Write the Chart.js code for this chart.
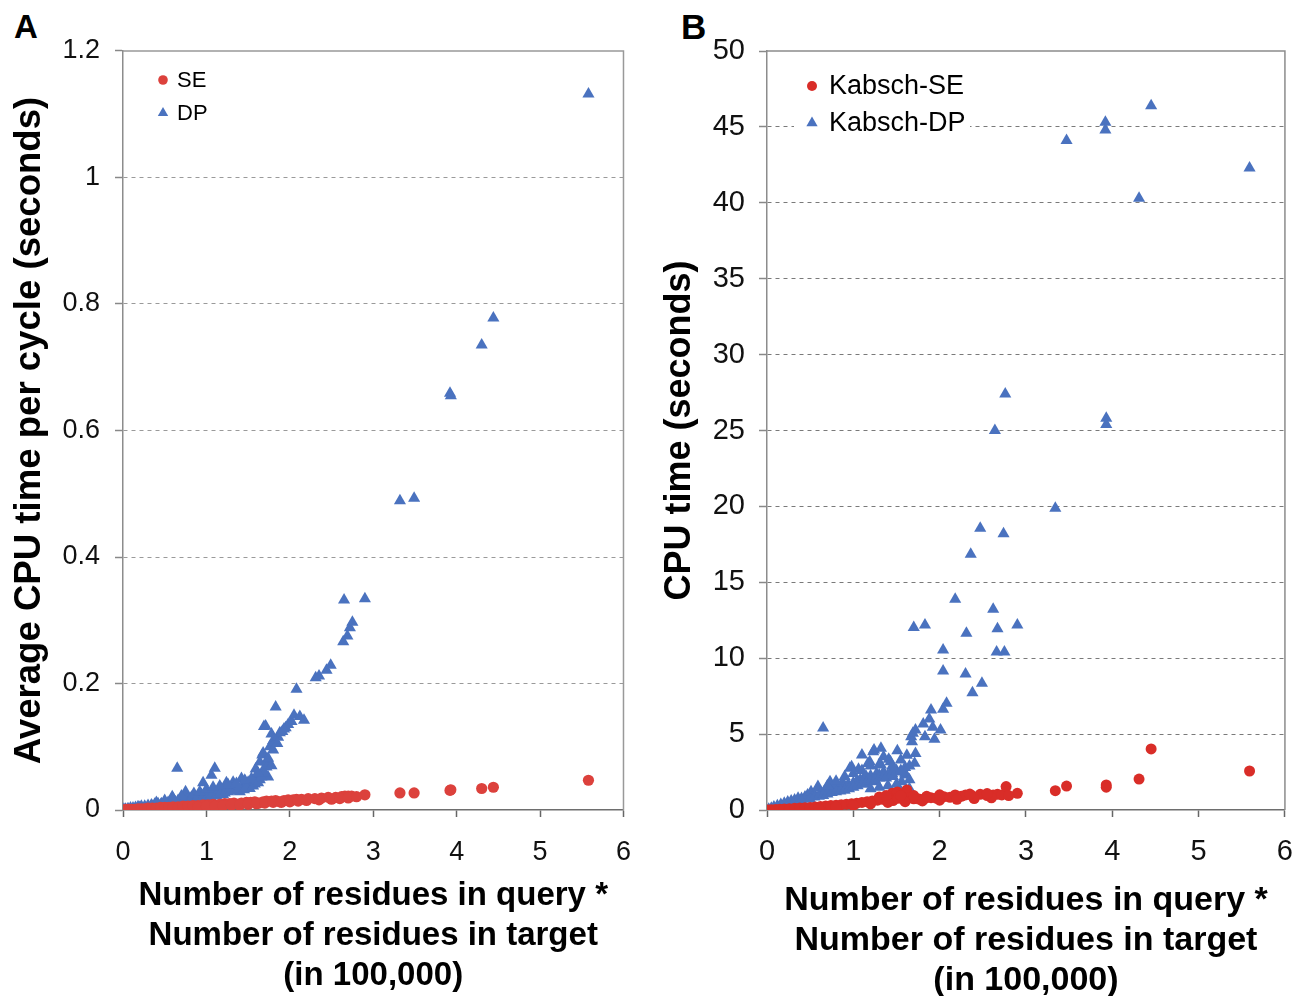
<!DOCTYPE html>
<html>
<head>
<meta charset="utf-8">
<script src="https://cdn.jsdelivr.net/npm/chart.js@4.4.0/dist/chart.umd.min.js"></script>
<style>
html,body{margin:0;padding:0;background:#fff;overflow:hidden;width:1311px;height:996px;position:relative;}
canvas{position:absolute;top:0;}
#cA{left:0;}
#cB{left:650px;}
.panel{position:absolute;font-family:'Liberation Sans',Arial,sans-serif;font-weight:bold;font-size:33px;color:#000;line-height:1;}
</style>
</head>
<body>
<div class="panel" style="left:14px;top:10px">A</div>
<div class="panel" style="left:681px;top:9px;font-size:35px">B</div>
<canvas id="cA" width="650" height="996"></canvas>
<canvas id="cB" width="661" height="1001"></canvas>
<script>
// ---------- tick labels & series names ----------
const xTickLabels = ['0','1','2','3','4','5','6'];
const yTickLabelsA = ['0','0.2','0.4','0.6','0.8','1','1.2'];
const yTickLabelsB = ['0','5','10','15','20','25','30','35','40','45','50'];
const namesA = ['SE','DP'];
const namesB = ['Kabsch-SE','Kabsch-DP'];
const xTitle = ['Number of residues in query *','Number of residues in target','(in 100,000)'];
const yTitleA = 'Average CPU time per cycle (seconds)';
const yTitleB = 'CPU time (seconds)';

// ---------- Panel A: SE ----------
const seA_x = [0.01,0.04,0.07,0.10,0.14,0.18,0.22,0.26,0.30,0.35,0.40,0.45,0.50,0.55,0.60,0.66,0.72,0.78,0.84,0.90,0.96,1.02,1.08,1.12,1.16,1.22,1.28,1.33,1.38,1.42,1.48,1.53,1.58,1.63,1.68,1.72,1.78,1.83,1.88,1.93,1.98,2.04,2.08,2.14,2.22,2.30,2.38,2.46,2.55,2.62,2.66,2.70,2.74,2.90,3.32,3.49,3.92,3.93,4.30,4.44,5.58,
  0.90,1.00,1.10,1.20,1.30,1.40,1.50,1.60,1.70,1.80,1.90,2.00,2.10,2.20,2.35,2.50,2.60,2.70,2.80];
const seA_y = [0.000,0.001,0.001,0.001,0.001,0.002,0.002,0.002,0.003,0.003,0.003,0.004,0.004,0.004,0.005,0.005,0.006,0.006,0.007,0.007,0.008,0.008,0.009,0.007,0.009,0.010,0.010,0.011,0.009,0.011,0.012,0.012,0.013,0.011,0.013,0.014,0.014,0.015,0.013,0.015,0.016,0.016,0.017,0.017,0.018,0.018,0.019,0.020,0.020,0.021,0.022,0.022,0.022,0.024,0.027,0.027,0.031,0.032,0.034,0.036,0.047,
  0.005,0.006,0.006,0.007,0.008,0.008,0.009,0.010,0.011,0.012,0.012,0.013,0.014,0.015,0.016,0.017,0.018,0.019,0.021];

// ---------- Panel A: DP ----------
const dpA_x = [0.01,0.03,0.06,0.09,0.12,0.15,0.18,0.22,0.26,0.30,0.34,0.38,0.42,0.46,0.50,0.54,0.59,0.58,0.62,0.65,0.66,0.70,0.74,0.75,0.78,0.82,0.86,0.90,0.94,0.96,0.98,1.02,1.06,1.06,1.10,1.10,1.14,1.18,1.20,1.24,1.24,1.28,1.32,1.32,1.36,1.40,1.42,1.44,1.48,1.50,1.52,1.55,1.59,1.60,1.60,1.64,1.64,1.67,1.68,1.68,1.69,1.71,1.72,1.74,1.76,1.80,1.82,1.83,1.86,1.88,1.91,1.95,1.98,2.02,2.05,2.08,2.12,2.17,2.31,2.35,2.44,2.49,2.64,2.69,2.72,2.75,2.65,2.90,3.32,3.49,3.92,3.93,4.30,4.44,5.58,
  0.20,0.35,0.45,0.55,0.65,0.72,0.80,0.88,0.95,1.00,1.05,1.12,1.16,1.22,1.26,1.30,1.34,1.38,1.45,1.48,1.56,1.58,1.62,1.66,1.70,1.72,1.78,1.74,1.80,1.85,1.78,1.93,0.85,0.92,1.00,1.08,1.16,1.26,1.36,1.46,1.54,1.62,0.70,0.60,0.50,0.40];
const dpA_y = [0.001,0.001,0.002,0.003,0.003,0.004,0.005,0.006,0.006,0.007,0.008,0.009,0.010,0.010,0.011,0.012,0.021,0.013,0.014,0.066,0.015,0.016,0.017,0.029,0.018,0.020,0.021,0.022,0.024,0.043,0.025,0.026,0.055,0.028,0.066,0.029,0.031,0.033,0.024,0.043,0.034,0.035,0.044,0.036,0.037,0.029,0.050,0.039,0.041,0.044,0.034,0.043,0.065,0.055,0.045,0.076,0.048,0.087,0.063,0.090,0.132,0.133,0.076,0.052,0.100,0.110,0.108,0.163,0.115,0.122,0.124,0.130,0.135,0.140,0.150,0.191,0.148,0.142,0.209,0.212,0.221,0.229,0.266,0.275,0.288,0.297,0.332,0.334,0.489,0.493,0.659,0.655,0.735,0.778,1.132,
  0.004,0.006,0.008,0.009,0.011,0.013,0.014,0.016,0.018,0.019,0.021,0.022,0.025,0.027,0.029,0.030,0.031,0.033,0.032,0.035,0.038,0.041,0.043,0.052,0.058,0.068,0.070,0.082,0.095,0.105,0.120,0.128,0.026,0.029,0.033,0.036,0.038,0.040,0.042,0.047,0.050,0.058,0.022,0.018,0.015,0.012];

// ---------- Panel B: Kabsch-SE ----------
const seB_x = [0.01,0.05,0.10,0.15,0.20,0.26,0.32,0.38,0.44,0.50,0.56,0.62,0.68,0.74,0.80,0.86,0.92,0.98,1.04,1.10,1.16,1.22,1.28,1.34,1.40,1.45,1.46,1.51,1.52,1.58,1.62,1.65,1.70,1.76,1.83,1.90,1.96,2.05,2.12,2.18,2.25,2.30,2.38,2.47,2.55,2.62,2.67,2.72,2.77,2.90,3.34,3.47,3.93,3.93,4.31,4.45,5.59,
  0.60,0.80,1.00,1.20,1.40,1.60,1.80,2.00,2.20,2.40,2.60,1.30,1.38,1.55,1.70,1.85,2.00,2.35,2.55,2.80];
const seB_y = [0.00,0.02,0.03,0.05,0.07,0.09,0.11,0.13,0.15,0.17,0.20,0.23,0.26,0.29,0.32,0.35,0.38,0.41,0.45,0.50,0.55,0.60,0.65,0.70,0.74,1.10,0.62,1.19,0.78,0.70,1.32,0.80,0.74,0.72,0.77,0.81,0.78,0.88,0.84,0.99,0.90,0.99,0.92,1.03,0.95,0.99,1.03,0.99,1.54,1.10,1.27,1.58,1.65,1.50,2.04,4.02,2.57,
  0.10,0.20,0.30,0.40,0.50,0.55,0.60,0.65,0.70,0.75,0.80,0.85,0.95,0.95,0.95,0.90,1.00,1.05,1.08,0.95];

// ---------- Panel B: Kabsch-DP ----------
const dpB_x = [0.02,0.05,0.08,0.12,0.16,0.20,0.24,0.28,0.32,0.36,0.40,0.44,0.47,0.50,0.51,0.55,0.59,0.59,0.62,0.65,0.66,0.70,0.73,0.74,0.76,0.80,0.84,0.87,0.90,0.94,0.96,0.98,1.00,1.04,1.06,1.08,1.10,1.12,1.15,1.17,1.19,1.20,1.23,1.24,1.26,1.27,1.30,1.32,1.32,1.35,1.38,1.41,1.43,1.43,1.46,1.51,1.50,1.56,1.60,1.60,1.65,1.67,1.68,1.69,1.71,1.72,1.72,1.70,1.81,1.83,1.83,1.88,1.90,1.92,1.94,2.01,2.04,2.08,2.04,2.04,2.18,2.30,2.31,2.36,2.38,2.47,2.49,2.62,2.64,2.66,2.67,2.74,2.75,2.76,2.90,3.34,3.47,3.92,3.92,3.93,3.93,4.31,4.45,5.59,
  0.30,0.40,0.50,0.55,0.60,0.65,0.70,0.75,0.80,0.85,0.90,0.95,1.00,1.05,1.10,1.15,1.20,1.25,1.30,1.35,1.40,1.45,1.50,1.55,1.60,1.65,0.70,0.80,0.90,1.00,1.10,1.20,1.30,1.35,1.45,1.55,1.62,1.20,1.30,1.40,1.50,1.55,1.65];
const dpB_y = [0.05,0.12,0.20,0.28,0.37,0.45,0.52,0.60,0.66,0.77,0.75,0.85,0.99,0.90,1.20,1.00,1.43,1.54,1.10,5.40,1.20,1.28,1.86,1.69,1.35,1.42,1.50,1.76,1.60,1.70,2.75,2.85,1.80,1.90,2.68,2.00,3.62,2.10,2.19,3.07,3.18,2.25,3.84,3.95,1.86,2.40,2.30,4.06,2.96,2.50,2.10,3.34,2.42,3.18,2.20,3.91,2.60,1.86,2.30,2.42,2.00,4.83,4.50,5.05,3.08,3.73,5.27,12.03,5.67,4.83,12.19,6.00,6.59,5.45,4.66,5.27,6.63,7.03,9.16,10.54,13.88,8.96,11.64,16.84,7.73,18.56,8.35,13.22,25.00,10.41,11.94,18.20,10.41,27.40,12.19,19.87,44.10,45.30,44.80,25.80,25.40,40.30,46.40,42.30,
  0.45,0.60,0.70,0.85,0.90,0.95,1.05,1.15,1.20,1.25,1.30,1.40,1.50,1.60,1.70,1.75,1.90,2.00,2.10,2.20,2.30,2.40,2.50,2.60,2.80,2.90,1.60,1.90,2.20,2.40,2.60,2.90,3.00,3.50,2.90,3.30,3.60,1.40,1.50,1.60,1.70,1.20,1.40];

// ---------- helpers ----------
const FONT = "'Liberation Sans', Arial, sans-serif";
const BLUE = '#4A72BF';
function pts(xs, ys) { return xs.map((x, i) => ({x: x, y: ys[i]})); }

function drawMarker(ctx, style, x, y, r, color) {
  ctx.fillStyle = color;
  ctx.beginPath();
  if (style === 'circle') {
    ctx.arc(x, y, r, 0, Math.PI * 2);
  } else {
    ctx.moveTo(x, y - r);
    ctx.lineTo(x + r * 0.866, y + r * 0.5);
    ctx.lineTo(x - r * 0.866, y + r * 0.5);
    ctx.closePath();
  }
  ctx.fill();
}

const framePlugin = {
  id: 'frame',
  beforeDatasetsDraw(chart, args, o) {
    const ctx = chart.ctx, a = chart.chartArea;
    ctx.save();
    ctx.strokeStyle = o.color;
    ctx.lineWidth = 1.5;
    ctx.beginPath();
    ctx.moveTo(a.left, a.top);
    ctx.lineTo(a.right, a.top);
    ctx.lineTo(a.right, a.bottom);
    ctx.stroke();
    if (o.bg) {
      ctx.fillStyle = '#fff';
      ctx.fillRect(a.left + o.bg[0], a.top + o.bg[1], o.bg[2], o.bg[3]);
    }
    ctx.restore();
  },
  afterDatasetsDraw(chart, args, o) {
    const ctx = chart.ctx, a = chart.chartArea;
    ctx.save();
    ctx.font = o.fontSize + 'px ' + FONT;
    ctx.textBaseline = 'middle';
    ctx.textAlign = 'left';
    chart.data.datasets.forEach((ds, i) => {
      const y = a.top + o.rows[i];
      drawMarker(ctx, ds.pointStyle, a.left + o.mx, y, o.mr[i], ds.backgroundColor);
      ctx.fillStyle = '#000';
      ctx.fillText(ds.label, a.left + o.tx, y + 1);
    });
    ctx.restore();
  }
};

function makeChart(id, c) {
  return new Chart(document.getElementById(id), {
    type: 'scatter',
    data: {
      datasets: [
        { label: c.names[0], data: pts(c.seX, c.seY), pointStyle: 'circle', pointRadius: c.rC,
          backgroundColor: c.red, borderColor: c.red, borderWidth: 0, order: 0 },
        { label: c.names[1], data: pts(c.dpX, c.dpY), pointStyle: 'triangle', pointRadius: c.rT,
          backgroundColor: BLUE, borderColor: BLUE, borderWidth: 0, order: 1 }
      ]
    },
    options: {
      responsive: false, animation: false, devicePixelRatio: 1,
      layout: { padding: { top: 51, right: c.padRight, left: 0, bottom: 0 } },
      elements: { point: { hoverRadius: 0 } },
      plugins: {
        legend: { display: false }, tooltip: { enabled: false },
        frame: c.frame
      },
      scales: {
        x: {
          type: 'linear', min: 0, max: 6,
          afterBuildTicks: s => { s.ticks = xTickLabels.map((t, i) => ({ value: i })); },
          afterFit: s => { s.height = c.xAxisH; },
          ticks: { callback: (v, i) => xTickLabels[i], font: { family: FONT, size: c.tickSize }, color: '#111',
                   padding: c.xTickPad, maxRotation: 0, autoSkip: false },
          grid: { drawOnChartArea: false, drawTicks: true, tickLength: 7, tickColor: '#666', tickWidth: 1.5 },
          border: { color: '#6e6e6e', width: 1.5 },
          title: { display: true, text: xTitle, color: '#000',
                   font: { family: FONT, size: c.xTitleSize, weight: 'bold', lineHeight: 40 / c.xTitleSize },
                   padding: { top: 0, bottom: 0 } }
        },
        y: {
          type: 'linear', min: 0, max: c.yMax,
          afterBuildTicks: s => { s.ticks = c.yTicks.map((t, i) => ({ value: i * c.yStep })); },
          afterFit: s => { s.width = c.yAxisW; },
          ticks: { callback: (v, i) => c.yTicks[i], font: { family: FONT, size: c.tickSize }, color: '#111',
                   padding: c.yTickPad, autoSkip: false },
          grid: {
            drawTicks: true, tickLength: 8, tickColor: '#888', tickWidth: 1.5, lineWidth: 1,
            color: ctx => (ctx.tick && (ctx.tick.value <= 0 || ctx.tick.value >= c.yMax - 1e-9)) ? 'rgba(0,0,0,0)' : c.gridColor
          },
          border: { color: '#8c8c8c', width: 1.5, dash: [4, 4] },
          title: { display: true, text: c.yTitle, color: '#000',
                   font: { family: FONT, size: c.yTitleSize, weight: 'bold', lineHeight: 1 },
                   padding: { top: c.yTitlePad, bottom: 0 } }
        }
      }
    },
    plugins: [framePlugin]
  });
}

makeChart('cA', {
  names: namesA, seX: seA_x, seY: seA_y, dpX: dpA_x, dpY: dpA_y,
  red: '#DC413C', rC: 5.6, rT: 7,
  padRight: 25, xAxisH: 186, yAxisW: 123, tickSize: 27, xTickPad: 19, yTickPad: 15,
  xTitleSize: 33, yTitle: yTitleA, yTitleSize: 36.6, yTitlePad: 12, yMax: 1.2, yStep: 0.2, yTicks: yTickLabelsA,
  gridColor: '#9a9a9a',
  frame: { color: '#999', fontSize: 22, mx: 40, tx: 54, rows: [29, 62], mr: [4.8, 6] }
});

makeChart('cB', {
  names: namesB, seX: seB_x, seY: seB_y, dpX: dpB_x, dpY: dpB_y,
  red: '#D92D28', rC: 5.5, rT: 7,
  padRight: 9, xAxisH: 191, yAxisW: 117, tickSize: 29, xTickPad: 18, yTickPad: 14,
  xTitleSize: 34, yTitle: yTitleB, yTitleSize: 36, yTitlePad: 12, yMax: 50, yStep: 5, yTicks: yTickLabelsB,
  gridColor: '#7a7a7a',
  frame: { color: '#8c8c8c', fontSize: 27, mx: 45, tx: 62, rows: [35, 72], mr: [5, 6.5], bg: [27, 12, 176, 80] }
});
</script>
</body>
</html>
